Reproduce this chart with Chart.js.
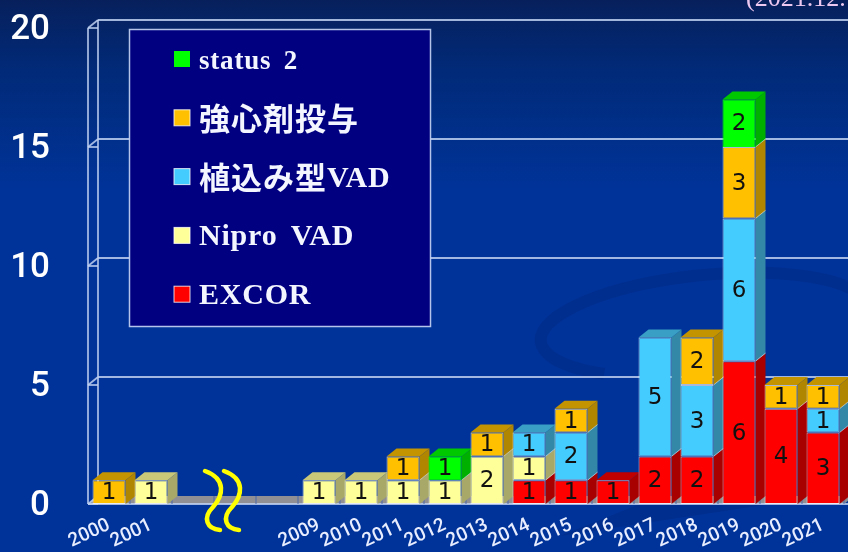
<!DOCTYPE html>
<html lang="ja">
<head>
<meta charset="utf-8">
<title>VAD chart</title>
<script src="https://cdn.jsdelivr.net/npm/chart.js@4"></script>
<style>
    html, body { margin: 0; padding: 0; width: 848px; height: 552px; overflow: hidden; }
    body { background: linear-gradient(#07205c 0px, #012a78 70px, #003399 190px, #003399 552px); }
    canvas { display: block; }
</style>
</head>
<body>
<canvas id="chart" width="848" height="552"></canvas>
<script>
// Years on the x axis, the three empty slots are the broken part of the axis
const years = ['2000', '2001', '', '', '', '2009', '2010', '2011', '2012', '2013', '2014', '2015', '2016', '2017', '2018', '2019', '2020', '2021'];

// Series values, bottom of the stack first
const excor = [null, null, null, null, null, null, null, null, null, null, 1, 1, 1, 2, 2, 6, 4, 3];
const nipro = [null, 1, null, null, null, 1, 1, 1, 1, 2, 1, null, null, null, null, null, null, null];
const implanted = [null, null, null, null, null, null, null, null, null, null, 1, 2, null, 5, 3, 6, null, 1];
const inotrope = [1, null, null, null, null, null, null, 1, null, 1, null, 1, null, null, 2, 3, 1, 1];
const status2 = [null, null, null, null, null, null, null, null, 1, null, null, null, null, null, null, 2, null, null];

const yTicks = [0, 5, 10, 15, 20];
const seriesNames = ['EXCOR', 'Nipro VAD', '植込み型VAD', '強心剤投与', 'status 2'];
const seriesValues = [excor, nipro, implanted, inotrope, status2];

// front, top face, side face
const seriesColors = [
    ['#ff0000', '#c00000', '#a80000'],
    ['#ffff99', '#c8c878', '#a8a868'],
    ['#45ccff', '#3a9fc4', '#3388a8'],
    ['#ffc000', '#c49300', '#b08500'],
    ['#00ff00', '#00c800', '#00b000']
];

const depthX = 10;
const depthY = 8;
const lineColor = 'rgba(190, 208, 240, 0.85)';

function polygon(ctx, points, fill) {
    ctx.beginPath();
    ctx.moveTo(points[0][0], points[0][1]);
    points.slice(1).forEach(p => ctx.lineTo(p[0], p[1]));
    ctx.closePath();
    ctx.fillStyle = fill;
    ctx.fill();
}

function line(ctx, x1, y1, x2, y2) {
    ctx.beginPath();
    ctx.moveTo(x1, y1);
    ctx.lineTo(x2, y2);
    ctx.stroke();
}

// Chart.js adds the label overhang to the layout padding, drop it so the plot box is exact
function noPadding(scale) {
    scale.paddingTop = 0;
    scale.paddingBottom = 0;
    scale.paddingLeft = 0;
    scale.paddingRight = 0;
}

// Background swirl, dark streak under the axis and the clipped date at the top
const backdrop = {
    id: 'backdrop',
    beforeDraw(chart) {
        const ctx = chart.ctx;
        ctx.save();
        ctx.strokeStyle = 'rgba(0, 35, 120, 0.28)';
        ctx.lineWidth = 12;
        ctx.beginPath();
        ctx.ellipse(705, 325, 165, 50, -0.1, Math.PI * 0.72, Math.PI * 1.9);
        ctx.stroke();
        polygon(ctx, [[560, 536], [770, 504], [640, 504]], 'rgba(0, 35, 120, 0.3)');
        ctx.font = '26px "Liberation Serif"';
        ctx.fillStyle = '#ecc8f0';
        ctx.fillText('(2021.12.', 746, 6);
        ctx.restore();
    }
};

// Walls and floor of the 3D box, then the side and top faces of the bars
const box3d = {
    id: 'box3d',
    beforeDatasetsDraw(chart) {
        const ctx = chart.ctx;
        const { left, right, bottom } = chart.chartArea;
        const yScale = chart.scales.y;
        const xScale = chart.scales.x;
        ctx.save();

        polygon(ctx, [[left, bottom], [right, bottom], [right + depthX, bottom - depthY], [left + depthX, bottom - depthY]], '#8f8f94');

        ctx.strokeStyle = lineColor;
        ctx.lineWidth = 1.8;
        yTicks.forEach(tick => {
            const y = yScale.getPixelForValue(tick);
            if (tick > 0) line(ctx, left + depthX, y - depthY, chart.width, y - depthY);
            line(ctx, left, y, left + depthX, y - depthY);
            line(ctx, left, y, left + depthX, y);
        });
        const top = yScale.getPixelForValue(20);
        line(ctx, left, top, left, bottom);
        line(ctx, left + depthX, top - depthY, left + depthX, bottom - depthY);
        line(ctx, left, bottom, chart.width, bottom);

        // slot ticks on the floor
        ctx.strokeStyle = 'rgba(70, 100, 170, 0.9)';
        ctx.lineWidth = 1;
        years.forEach((year, i) => {
            const x = xScale.getPixelForTick(i) + 21;
            line(ctx, x, bottom, x, bottom - depthY);
        });

        years.forEach((year, i) => {
            let last = -1;
            seriesValues.forEach((values, s) => {
                if (values[i] === null) return;
                const bar = chart.getDatasetMeta(s).data[i];
                const r = bar.x + bar.width / 2;
                polygon(ctx, [[r, bar.y], [r + depthX, bar.y - depthY], [r + depthX, bar.base - depthY], [r, bar.base]], seriesColors[s][2]);
                if (last >= 0) {
                    ctx.strokeStyle = 'rgba(255, 255, 255, 0.55)';
                    line(ctx, r, bar.base, r + depthX, bar.base - depthY);
                }
                last = s;
            });
            if (last < 0) return;
            const bar = chart.getDatasetMeta(last).data[i];
            const l = bar.x - bar.width / 2;
            const r = bar.x + bar.width / 2;
            polygon(ctx, [[l, bar.y], [r, bar.y], [r + depthX, bar.y - depthY], [l + depthX, bar.y - depthY]], seriesColors[last][1]);
        });
        ctx.restore();
    }
};

// Value labels, the legend box and the yellow axis break
const overlay = {
    id: 'overlay',
    afterDatasetsDraw(chart) {
        const ctx = chart.ctx;
        ctx.save();

        ctx.font = '23px "DejaVu Sans"';
        ctx.fillStyle = '#111111';
        ctx.textAlign = 'center';
        ctx.textBaseline = 'middle';
        seriesValues.forEach((values, s) => {
            values.forEach((value, i) => {
                if (value === null) return;
                const bar = chart.getDatasetMeta(s).data[i];
                ctx.fillText(value, bar.x, (bar.y + bar.base) / 2 + 1);
            });
        });

        drawLegend(ctx);
        drawBreak(ctx, chart.scales.x.getPixelForTick(3) - 30, chart.chartArea.bottom);
        ctx.restore();
    }
};

function drawLegend(ctx) {
    ctx.fillStyle = '#000080';
    ctx.fillRect(129.5, 29.5, 301, 297);
    ctx.strokeStyle = 'rgba(200, 215, 245, 0.9)';
    ctx.lineWidth = 1.5;
    ctx.strokeRect(129.5, 29.5, 301, 297);

    ctx.textAlign = 'left';
    ctx.textBaseline = 'alphabetic';
    for (let s = seriesNames.length - 1; s >= 0; s--) {
        const y = 60 + (seriesNames.length - 1 - s) * 58.8;
        ctx.fillStyle = seriesColors[s][0];
        ctx.fillRect(174, y - 9, 16, 16);
        if (s !== 4) {
            ctx.strokeStyle = 'rgba(255, 255, 255, 0.8)';
            ctx.lineWidth = 1;
            ctx.strokeRect(174, y - 9, 16, 16);
        }
        drawLegendText(ctx, seriesNames[s], 199, y + 9);
    }
}

// Latin in serif, Japanese in gothic. The status line is set a little smaller
function drawLegendText(ctx, text, x, y) {
    const latinSize = text.startsWith('status') ? 27 : 30;
    ctx.fillStyle = '#f4f6ff';
    text.match(/[\u3000-\u9fff]+|[^\u3000-\u9fff]+/g).forEach(run => {
        const isJapanese = /[\u3000-\u9fff]/.test(run);
        ctx.font = isJapanese ? 'bold 31px "Noto Sans CJK JP"' : 'bold ' + latinSize + 'px "Liberation Serif"';
        ctx.letterSpacing = isJapanese ? '1px' : '0.8px';
        ctx.wordSpacing = '5px';
        ctx.fillText(run, x, isJapanese ? y + 2 : y);
        x += ctx.measureText(run).width;
    });
    ctx.letterSpacing = '0px';
    ctx.wordSpacing = '0px';
}

function drawBreak(ctx, x, bottom) {
    ctx.strokeStyle = '#ffff00';
    ctx.lineWidth = 4.5;
    ctx.lineCap = 'round';
    [0, 19].forEach(dx => {
        ctx.beginPath();
        ctx.moveTo(x + dx, bottom - 33);
        ctx.bezierCurveTo(x + dx + 22, bottom - 25, x + dx + 18, bottom - 8, x + dx + 8, bottom + 3);
        ctx.bezierCurveTo(x + dx - 3, bottom + 14, x + dx + 2, bottom + 25, x + dx + 15, bottom + 26);
        ctx.stroke();
    });
}

new Chart(document.getElementById('chart').getContext('2d'), {
    type: 'bar',
    data: {
        labels: years,
        datasets: seriesNames.map((name, s) => ({
            label: name,
            data: seriesValues[s],
            backgroundColor: seriesColors[s][0],
            borderColor: s === 4 ? seriesColors[s][0] : 'rgba(255, 255, 255, 0.65)',
            borderWidth: 1,
            borderSkipped: false,
            barPercentage: 0.786,
            categoryPercentage: 1
        }))
    },
    options: {
        responsive: false,
        animation: false,
        layout: { padding: { top: 28, right: 4, left: 0, bottom: 0 } },
        plugins: { legend: { display: false }, tooltip: { enabled: false } },
        scales: {
            x: {
                stacked: true,
                grid: { display: false },
                border: { display: false },
                afterFit(scale) { scale.height = 48; noPadding(scale); },
                ticks: {
                    autoSkip: false,
                    maxRotation: 25,
                    minRotation: 25,
                    padding: 2,
                    color: '#e8eeff',
                    font: { family: 'Roboto', size: 19, weight: '500' }
                }
            },
            y: {
                stacked: true,
                min: 0,
                max: 20,
                grid: { display: false },
                border: { display: false },
                afterFit(scale) { scale.width = 88; noPadding(scale); },
                afterBuildTicks(scale) { scale.ticks = yTicks.map(v => ({ value: v })); },
                ticks: {
                    padding: 30,
                    labelOffset: 2.5,
                    color: '#ffffff',
                    font: { family: 'Roboto', size: 35, weight: '500' }
                }
            }
        }
    },
    plugins: [backdrop, box3d, overlay]
});
</script>
</body>
</html>
